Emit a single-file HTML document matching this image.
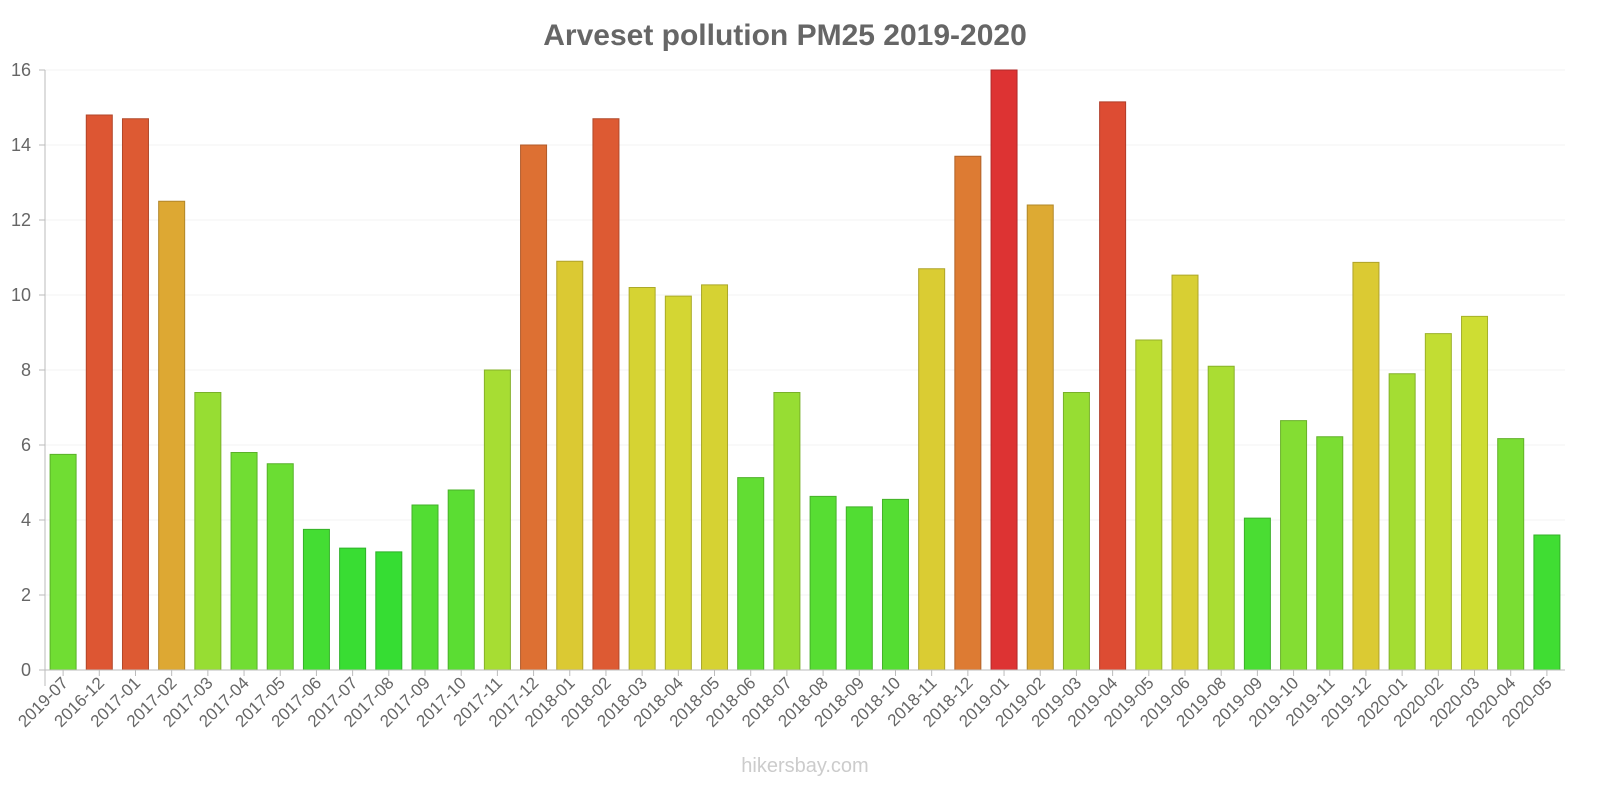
<!DOCTYPE html>
<html><head><meta charset="utf-8"><style>
body{margin:0;background:#fff;font-family:"Liberation Sans",sans-serif;}
</style></head><body>
<svg id="chart" width="1600" height="800" xmlns="http://www.w3.org/2000/svg">
<text x="785" y="45" text-anchor="middle" font-size="30" font-weight="bold" fill="#666">Arveset pollution PM25 2019-2020</text>
<text x="805" y="772" text-anchor="middle" font-size="20" fill="#ccc">hikersbay.com</text>
<g id="grid"></g><g id="bars"></g><g id="axes"></g>
</svg>
<script>
const categories=["2019-07","2016-12","2017-01","2017-02","2017-03","2017-04","2017-05","2017-06","2017-07","2017-08","2017-09","2017-10","2017-11","2017-12","2018-01","2018-02","2018-03","2018-04","2018-05","2018-06","2018-07","2018-08","2018-09","2018-10","2018-11","2018-12","2019-01","2019-02","2019-03","2019-04","2019-05","2019-06","2019-08","2019-09","2019-10","2019-11","2019-12","2020-01","2020-02","2020-03","2020-04","2020-05"];
const values=[5.75,14.8,14.7,12.5,7.4,5.8,5.5,3.75,3.25,3.15,4.4,4.8,8.0,14.0,10.9,14.7,10.2,9.97,10.27,5.13,7.4,4.63,4.35,4.55,10.7,13.7,16.0,12.4,7.4,15.15,8.8,10.53,8.1,4.05,6.65,6.22,10.87,7.9,8.97,9.43,6.17,3.6];
const yTicks=[0,2,4,6,8,10,12,14,16];
const X0=45,X1=1565,Y0=670,Y1=70,YMAX=16;
const band=(X1-X0)/categories.length;
const x=i=>X0+band*(i+0.5);
const y=v=>Y0-(Y0-Y1)*v/YMAX;
const NS="http://www.w3.org/2000/svg";
function mk(t,a,p){const e=document.createElementNS(NS,t);for(const k in a)e.setAttribute(k,a[k]);p.appendChild(e);return e;}
const stops=[[3,[51,221,51]],[7,[140,221,51]],[9.5,[208,221,51]],[11,[220,200,51]],[12.5,[221,168,51]],[14,[221,112,51]],[15,[221,80,51]],[16,[221,51,51]]];
function col(v){if(v<=stops[0][0])return stops[0][1];for(let i=1;i<stops.length;i++){if(v<=stops[i][0]){const a=stops[i-1],b=stops[i],t=(v-a[0])/(b[0]-a[0]);return a[1].map((c,k)=>Math.round(c+(b[1][k]-c)*t));}}return stops[stops.length-1][1];}
const grid=document.getElementById('grid'),bars=document.getElementById('bars'),axes=document.getElementById('axes');
yTicks.forEach(t=>{
 const l=mk('line',{x1:X0,x2:X1,y1:y(t),y2:y(t),stroke:'#f3f3f3'},grid);
 
 
 mk('line',{x1:X0-6,x2:X0,y1:y(t),y2:y(t),stroke:'#bbb'},axes);
 const tx=mk('text',{x:X0-14,y:y(t)+6,'text-anchor':'end','font-size':18,fill:'#666'},axes);
 tx.textContent=t;
 
 
});
values.forEach((v,i)=>{
 const c=col(v),w=26;
 const r=mk('rect',{x:x(i)-w/2,y:y(v),width:w,height:Y0-y(v),fill:`rgb(${c})`,stroke:`rgb(${c.map(k=>Math.round(k*0.8))})`,'stroke-width':1},bars);
 
 
 mk('line',{x1:x(i),x2:x(i),y1:Y0,y2:Y0+6,stroke:'#bbb'},axes);
 const tx=mk('text',{x:x(i)+6,y:Y0+14,'text-anchor':'end','font-size':17,fill:'#666',transform:`rotate(-45 ${x(i)+6} ${Y0+14})`},axes);
 tx.textContent=categories[i];
 
 
});
const xa=mk('line',{x1:X0,x2:X1,y1:Y0,y2:Y0,stroke:'#bbb'},axes);


const ya=mk('line',{x1:X0,x2:X0,y1:Y1,y2:Y0+16,stroke:'#bbb'},axes);


</script>
</body></html>
